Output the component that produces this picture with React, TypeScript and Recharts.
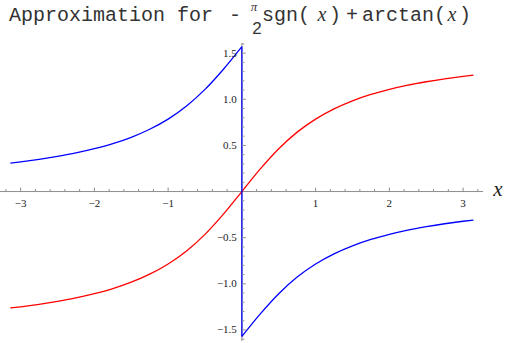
import React from 'react';
import { ComposedChart, Line, Scatter, XAxis, YAxis, ReferenceLine } from 'recharts';

// red curve: arctan(x)
const redX = [-3.14, -3, -2.75, -2.5, -2.25, -2, -1.75, -1.5, -1.25, -1, -0.75, -0.5, -0.25, 0, 0.25, 0.5, 0.75, 1, 1.25, 1.5, 1.75, 2, 2.25, 2.5, 2.75, 3, 3.14];
const redY = [-1.262, -1.249, -1.222, -1.19, -1.153, -1.107, -1.052, -0.983, -0.896, -0.785, -0.644, -0.464, -0.245, 0, 0.245, 0.464, 0.644, 0.785, 0.896, 0.983, 1.052, 1.107, 1.153, 1.19, 1.222, 1.249, 1.262];

// blue curve, left branch / right branch / jump at 0
const blueLeftX = [-3.14, -3, -2.75, -2.5, -2.25, -2, -1.75, -1.5, -1.25, -1, -0.75, -0.5, -0.25, 0];
const blueLeftY = [0.309, 0.322, 0.349, 0.381, 0.418, 0.464, 0.519, 0.588, 0.675, 0.785, 0.927, 1.107, 1.326, 1.571];
const blueRightX = [0, 0.25, 0.5, 0.75, 1, 1.25, 1.5, 1.75, 2, 2.25, 2.5, 2.75, 3, 3.14];
const blueRightY = [-1.571, -1.326, -1.107, -0.927, -0.785, -0.675, -0.588, -0.519, -0.464, -0.418, -0.381, -0.349, -0.322, -0.309];
const jumpX = [0, 0];
const jumpY = [1.571, -1.571];

// ticks
const xMajor = [-3, -2, -1, 1, 2, 3];
const xMajorLabels = ['\u22123', '\u22122', '\u22121', '1', '2', '3'];
const xMinor = [-3.2, -2.8, -2.6, -2.4, -2.2, -1.8, -1.6, -1.4, -1.2, -0.8, -0.6, -0.4, -0.2, 0.2, 0.4, 0.6, 0.8, 1.2, 1.4, 1.6, 1.8, 2.2, 2.4, 2.6, 2.8, 3.2];
const yMajor = [-1.5, -1, -0.5, 0.5, 1, 1.5];
const yMajorLabels = ['\u22121.5', '\u22121.0', '\u22120.5', '0.5', '1.0', '1.5'];
const yMinor = [-1.6, -1.4, -1.3, -1.2, -1.1, -0.9, -0.8, -0.7, -0.6, -0.4, -0.3, -0.2, -0.1, 0.1, 0.2, 0.3, 0.4, 0.6, 0.7, 0.8, 0.9, 1.1, 1.2, 1.3, 1.4, 1.6];

const zip = (xs: number[], ys: number[]) => xs.map((x, i) => ({ x, y: ys[i] }));

const redData = zip(redX, redY);
const blueLeft = zip(blueLeftX, blueLeftY);
const blueRight = zip(blueRightX, blueRightY);
const blueJump = zip(jumpX, jumpY);

const xTicks = [
    ...xMajor.map((x, i) => ({ x, y: 0, major: true, label: xMajorLabels[i] })),
    ...xMinor.map(x => ({ x, y: 0, major: false, label: '' })),
];
const yTicks = [
    ...yMajor.map((y, i) => ({ x: 0, y, major: true, label: yMajorLabels[i] })),
    ...yMinor.map(y => ({ x: 0, y, major: false, label: '' })),
];

const AXIS = '#8e8e8e';
const TICK_FONT = '"Liberation Serif", "DejaVu Serif", serif';

const XTick = (p: any) => {
    const { cx, cy, payload } = p;
    const len = payload.major ? 4 : 2.5;
    return (
        <g>
            <line x1={cx} x2={cx} y1={cy} y2={cy - len} stroke={AXIS} strokeWidth={1} />
            {payload.label && (
                <text x={cx} y={cy + 15} textAnchor="middle" fontFamily={TICK_FONT} fontSize={11} fill="#222">
                    {payload.label}
                </text>
            )}
        </g>
    );
};

const YTick = (p: any) => {
    const { cx, cy, payload } = p;
    const len = payload.major ? 4 : 2.5;
    return (
        <g>
            <line x1={cx} x2={cx + len} y1={cy} y2={cy} stroke={AXIS} strokeWidth={1} />
            {payload.label && (
                <text x={cx - 5} y={cy + 3.5} textAnchor="end" fontFamily={TICK_FONT} fontSize={11} fill="#222">
                    {payload.label}
                </text>
            )}
        </g>
    );
};

const MONO = '"Liberation Mono", "DejaVu Sans Mono", monospace';
const SERIF = '"Liberation Serif", "DejaVu Serif", serif';
const SANS = '"Liberation Sans", Arial, sans-serif';

export default function App() {
    return (
        <div style={{ position: 'absolute', left: 0, top: 0, width: 506, height: 343 }}>
            <ComposedChart width={506} height={343} margin={{ top: 43, right: 23, bottom: 2, left: 0 }}>
                <XAxis type="number" dataKey="x" domain={[-3.28, 3.27]} allowDataOverflow hide />
                <YAxis type="number" dataKey="y" domain={[-1.62, 1.61]} allowDataOverflow hide />
                <ReferenceLine y={0} stroke={AXIS} strokeWidth={1} />
                <ReferenceLine x={0} stroke={AXIS} strokeWidth={1} />
                <Scatter data={xTicks} dataKey="y" shape={XTick} isAnimationActive={false} />
                <Scatter data={yTicks} dataKey="y" shape={YTick} isAnimationActive={false} />
                <Line data={redData} dataKey="y" type="monotone" stroke="#ff0000" strokeWidth={1.3} dot={false} isAnimationActive={false} />
                <Line data={blueLeft} dataKey="y" type="monotone" stroke="#0000ff" strokeWidth={1.3} dot={false} isAnimationActive={false} />
                <Line data={blueRight} dataKey="y" type="monotone" stroke="#0000ff" strokeWidth={1.3} dot={false} isAnimationActive={false} />
                <Line data={blueJump} dataKey="y" type="linear" stroke="#0000ff" strokeWidth={1.3} dot={false} isAnimationActive={false} />
            </ComposedChart>
            <svg width={506} height={343} style={{ position: 'absolute', left: 0, top: 0, pointerEvents: 'none' }}>
                <g fill="#333" fontFamily={MONO} fontSize={20}>
                    <text x={9} y={21}>Approximation for</text>
                    <text x={229} y={21}>-</text>
                    <text x={254} y={11} textAnchor="middle" fontFamily={SERIF} fontStyle="italic" fontSize={13}>{'\u03c0'}</text>
                    <text x={257} y={34} textAnchor="middle" fontFamily={SANS} fontSize={17}>2</text>
                    <text x={262} y={21}>sgn(</text>
                    <text x={322} y={21} textAnchor="middle" fontFamily={SERIF} fontStyle="italic">x</text>
                    <text x={329} y={21}>)</text>
                    <text x={346} y={21}>+</text>
                    <text x={362} y={21}>arctan(</text>
                    <text x={452} y={21} textAnchor="middle" fontFamily={SERIF} fontStyle="italic">x</text>
                    <text x={459} y={21}>)</text>
                </g>
                <text x={498} y={196} textAnchor="middle" fontFamily={SERIF} fontStyle="italic" fontSize={21} fill="#222">x</text>
            </svg>
        </div>
    );
}
